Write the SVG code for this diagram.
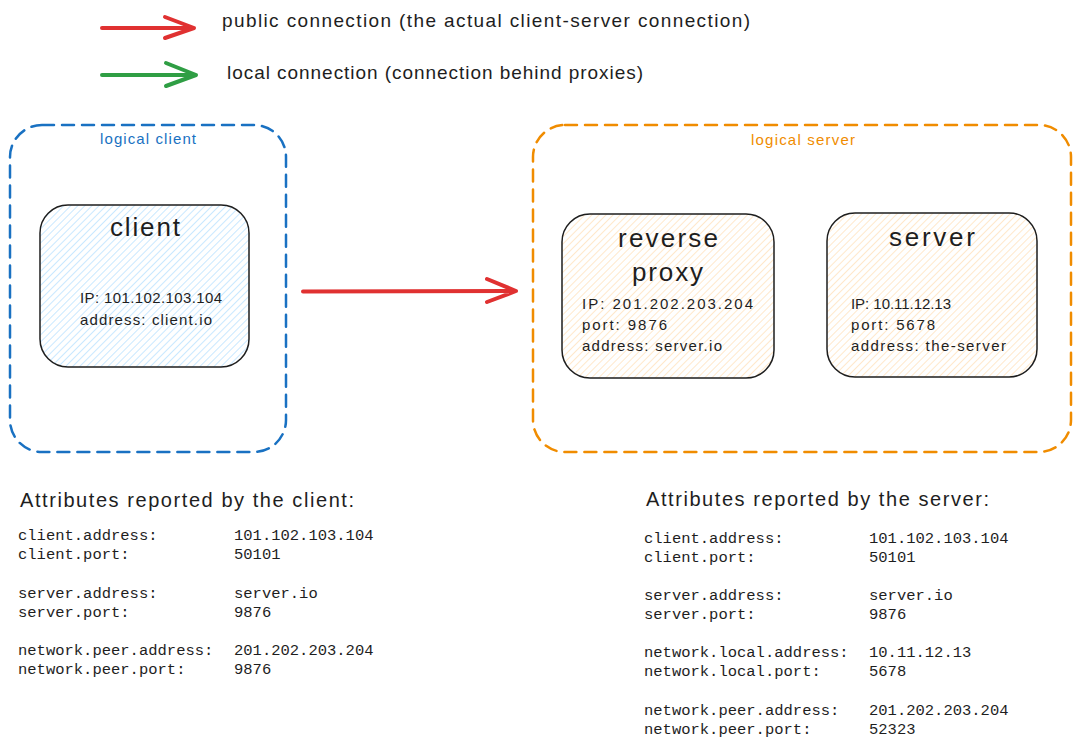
<svg xmlns="http://www.w3.org/2000/svg" width="1080" height="749" viewBox="0 0 1080 749">
  <defs>
    <pattern id="hatchBlue" width="5" height="5" patternUnits="userSpaceOnUse" patternTransform="rotate(45)">
      <line x1="0" y1="0" x2="0" y2="5" stroke="#a5d8ff" stroke-width="1.2"/>
    </pattern>
    <pattern id="hatchOrange" width="5" height="5" patternUnits="userSpaceOnUse" patternTransform="rotate(45)">
      <line x1="0" y1="0" x2="0" y2="5" stroke="#ffd8a8" stroke-width="1.2"/>
    </pattern>
  </defs>
  <style>
    .hand { font-family: "Liberation Sans", Arial, sans-serif; fill: #1e1e1e; }
    .mono { font-family: "Liberation Mono", "DejaVu Sans Mono", monospace; font-size: 15.5px; fill: #1e1e1e; }
    .node { stroke: #1e1e1e; stroke-width: 1.5; }
    .group { fill: none; stroke-width: 2.5; stroke-dasharray: 12 8; stroke-linecap: round; }
    .arrow { fill: none; stroke-width: 4; stroke-linecap: round; stroke-linejoin: round; }
    .title { font-size: 26px; }
    .attr { font-size: 15px; }
  </style>

  <rect width="1080" height="749" fill="#ffffff"/>

  <g id="legend">
    <path class="arrow" stroke="#e03131" d="M102 28 L194 28 M165 17 L194 28 L165 38"/>
    <text class="hand" x="222" y="27" font-size="19" textLength="528" lengthAdjust="spacing">public connection (the actual client-server connection)</text>
    <path class="arrow" stroke="#2f9e44" d="M102 75 L196 75 M166 63 L196 75 L166 86"/>
    <text class="hand" x="227" y="79" font-size="19" textLength="416" lengthAdjust="spacing">local connection (connection behind proxies)</text>
  </g>

  <g id="logical-client">
    <rect class="group" x="10" y="125" width="276" height="327" rx="32" stroke="#1971c2"/>
    <text class="hand" x="100" y="144" font-size="15" fill="#1971c2" style="fill:#1971c2" textLength="96" lengthAdjust="spacing">logical client</text>
  </g>

  <g id="logical-server">
    <rect class="group" x="533" y="125" width="538" height="327" rx="32" stroke="#f08c00"/>
    <text class="hand" x="751" y="145" font-size="15" style="fill:#f08c00" textLength="104" lengthAdjust="spacing">logical server</text>
  </g>

  <g id="client">
    <rect class="node" x="40" y="205" width="209" height="162" rx="28" fill="url(#hatchBlue)"/>
    <text class="hand title" x="110" y="236" textLength="70" lengthAdjust="spacing">client</text>
    <text class="hand attr" x="80" y="303" textLength="142" lengthAdjust="spacing">IP: 101.102.103.104</text>
    <text class="hand attr" x="80" y="325" textLength="132" lengthAdjust="spacing">address: client.io</text>
  </g>

  <g id="reverse-proxy">
    <rect class="node" x="562" y="214" width="212" height="164" rx="28" fill="url(#hatchOrange)"/>
    <text class="hand title" x="618" y="247" textLength="100" lengthAdjust="spacing">reverse</text>
    <text class="hand title" x="632" y="281" textLength="71" lengthAdjust="spacing">proxy</text>
    <text class="hand attr" x="582" y="309" textLength="171" lengthAdjust="spacing">IP: 201.202.203.204</text>
    <text class="hand attr" x="582" y="330" textLength="85" lengthAdjust="spacing">port: 9876</text>
    <text class="hand attr" x="582" y="351" textLength="140" lengthAdjust="spacing">address: server.io</text>
  </g>

  <g id="server">
    <rect class="node" x="827" y="213" width="210" height="164" rx="28" fill="url(#hatchOrange)"/>
    <text class="hand title" x="889" y="246" textLength="86" lengthAdjust="spacing">server</text>
    <text class="hand attr" x="851" y="309" textLength="100" lengthAdjust="spacing">IP: 10.11.12.13</text>
    <text class="hand attr" x="851" y="330" textLength="84" lengthAdjust="spacing">port: 5678</text>
    <text class="hand attr" x="851" y="351" textLength="155" lengthAdjust="spacing">address: the-server</text>
  </g>

  <g id="connectors">
    <path class="arrow" stroke="#e03131" d="M303 291.5 L516 291 M487 279 L516 291 L487 302"/>
  </g>

  <g id="client-attributes">
    <text class="hand" x="20" y="507" font-size="20" textLength="334" lengthAdjust="spacing">Attributes reported by the client:</text>
    <text class="mono" x="18" y="540">client.address:</text>
    <text class="mono" x="234" y="540">101.102.103.104</text>
    <text class="mono" x="18" y="559">client.port:</text>
    <text class="mono" x="234" y="559">50101</text>
    <text class="mono" x="18" y="598">server.address:</text>
    <text class="mono" x="234" y="598">server.io</text>
    <text class="mono" x="18" y="617">server.port:</text>
    <text class="mono" x="234" y="617">9876</text>
    <text class="mono" x="18" y="655">network.peer.address:</text>
    <text class="mono" x="234" y="655">201.202.203.204</text>
    <text class="mono" x="18" y="674">network.peer.port:</text>
    <text class="mono" x="234" y="674">9876</text>
  </g>

  <g id="server-attributes">
    <text class="hand" x="646" y="506" font-size="20" textLength="343" lengthAdjust="spacing">Attributes reported by the server:</text>
    <text class="mono" x="644" y="543">client.address:</text>
    <text class="mono" x="869" y="543">101.102.103.104</text>
    <text class="mono" x="644" y="562">client.port:</text>
    <text class="mono" x="869" y="562">50101</text>
    <text class="mono" x="644" y="600">server.address:</text>
    <text class="mono" x="869" y="600">server.io</text>
    <text class="mono" x="644" y="619">server.port:</text>
    <text class="mono" x="869" y="619">9876</text>
    <text class="mono" x="644" y="657">network.local.address:</text>
    <text class="mono" x="869" y="657">10.11.12.13</text>
    <text class="mono" x="644" y="676">network.local.port:</text>
    <text class="mono" x="869" y="676">5678</text>
    <text class="mono" x="644" y="715">network.peer.address:</text>
    <text class="mono" x="869" y="715">201.202.203.204</text>
    <text class="mono" x="644" y="734">network.peer.port:</text>
    <text class="mono" x="869" y="734">52323</text>
  </g>
</svg>
